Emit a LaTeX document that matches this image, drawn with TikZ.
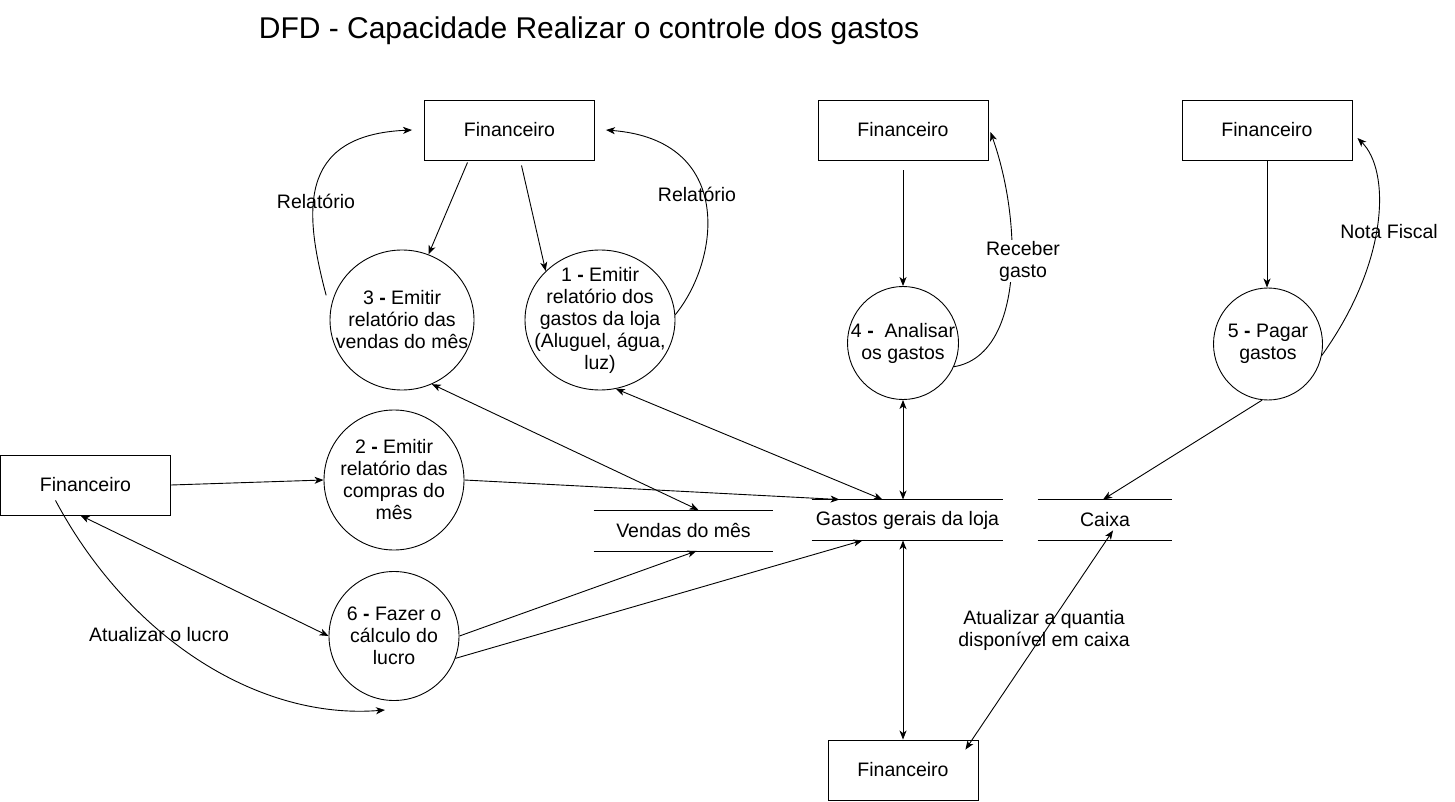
\documentclass[tikz,border=0pt]{standalone}
\usepackage{fontspec}
\setmainfont{Liberation Sans}
\usetikzlibrary{arrows.meta,shapes.geometric}

\tikzset{
  entity/.style={draw, rectangle, minimum width=170, minimum height=60, inner sep=0},
  proc/.style n args={3}{draw, ellipse, minimum width=#1, minimum height=#2, inner sep=0,
    label={[align=center]center:#3}},
  store/.style={minimum height=40, inner sep=0},
  flow/.style={-{Stealth[length=9pt,width=7pt,inset=2.5pt]}},
  both/.style={{Stealth[length=9pt,width=7pt,inset=2.5pt]}-{Stealth[length=9pt,width=7pt,inset=2.5pt]}}
}

\begin{document}
\begin{tikzpicture}[x=1pt, y=-1pt, line width=0.9pt, font=\fontsize{19.5}{22}\selectfont]
  \useasboundingbox (0,0) rectangle (1455,802);

  \node[font=\fontsize{30}{36}\selectfont] (title) at (589,31) {DFD - Capacidade Realizar o controle dos gastos};

  % entidades externas
  \node[entity] (f1) at (509.5,130) {Financeiro};
  \node[entity] (f2) at (903,130) {Financeiro};
  \node[entity] (f3) at (1267,130) {Financeiro};
  \node[entity] (f4) at (85.5,485) {Financeiro};
  \node[entity, minimum width=150] (f5) at (903,770) {Financeiro};

  % processos
  \node[proc={144}{140}{3 \textbf{-} Emitir\\relatório das\\vendas do mês}] (p3) at (402,320) {};
  \node[proc={150}{140}{1 \textbf{-} Emitir\\relatório dos\\gastos da loja\\(Aluguel, água,\\luz)}] (p1) at (600,320) {};
  \node[proc={140}{140}{2 \textbf{-} Emitir\\relatório das\\compras do\\mês}] (p2) at (394,480) {};
  \node[proc={130}{129}{6 \textbf{-} Fazer o\\cálculo do\\lucro}] (p6) at (394,636) {};
  \node[proc={111}{113}{4 \textbf{-}\ \ Analisar\\os gastos}] (p4) at (903,343) {};
  \node[proc={109}{112}{5 \textbf{-} Pagar\\gastos}] (p5) at (1268,344) {};

  % depositos
  \node[store, minimum width=179] (vm) at (683.5,530.5) {Vendas do mês};
  \node[store, minimum width=191] (gg) at (907.5,520) {Gastos gerais da loja};
  \node[store, minimum width=134] (cx) at (1105,520) {Caixa};
  \foreach \s in {vm,gg,cx}
    \draw (\s.north west) -- (\s.north east) (\s.south west) -- (\s.south east);

  % fluxos
  \draw[flow] ([xshift=-42,yshift=-2]f1.south) -- (p3.68);
  \draw[flow] ([xshift=12,yshift=-5]f1.south) -- (p1.138);
  \draw[flow] ([xshift=-8]p3.160) .. controls (305,215) and (295,135) .. ([xshift=-12]f1.west);
  \draw[flow] (p1.4) .. controls (720,260) and (735,140) .. ([xshift=11]f1.east);
  \draw[flow] ([yshift=-10]f2.south) -- (p4.north);
  \draw[flow] (p4.-25) .. controls (1025,355) and (1022,220) .. ([shift={(2,2)}]f2.east);
  \draw[flow] (f3.south) -- (f3.south |- p5.north);
  \draw[flow] (p5.-12) .. controls (1390,260) and (1390,170) .. ([shift={(5,8)}]f3.east);
  \draw[flow] (p5.-96) -- ([xshift=-2]cx.north);
  \draw[both] (p4.south) -- (p4.south |- gg.north);
  \draw[both] (p1.-77) -- ([xshift=-25]gg.north);
  \draw[both] (p3.-65) -- ([xshift=15]vm.north);
  \draw[flow] (p2.east) -- ([xshift=28]gg.north west);
  \draw[flow] (f4.east) -- (p2.west);
  \draw[both] ([xshift=-5]f4.south) -- (p6.west);
  \coordinate (lucroend) at (385,710);
  \draw[flow] ([shift={(-30,-15)}]f4.south) .. controls (130,640) and (260,720) .. (lucroend);
  \draw[flow] (p6.east) -- ([xshift=13]vm.south);
  \draw[flow] (p6.-20) -- ([xshift=-45]gg.south);
  \draw[both] (f5.north) -- (f5.north |- gg.south);
  \draw[both] ([shift={(-13,10)}]f5.north east) -- ([shift={(8,-10)}]cx.south);

  % rotulos
  \node (lrel3) at (316,201) {Relatório};
  \node (lrel1) at (697,194) {Relatório};
  \node[fill=white, align=center, inner sep=1pt] (lrec) at (1023,261) {Receber\\gasto};
  \node (lnota) at (1389,232) {Nota Fiscal};
  \node (llucro) at (159,635) {Atualizar o lucro};
  \node[align=center] (lcaixa) at (1044,630) {Atualizar a quantia\\disponível em caixa};
\end{tikzpicture}
\end{document}
